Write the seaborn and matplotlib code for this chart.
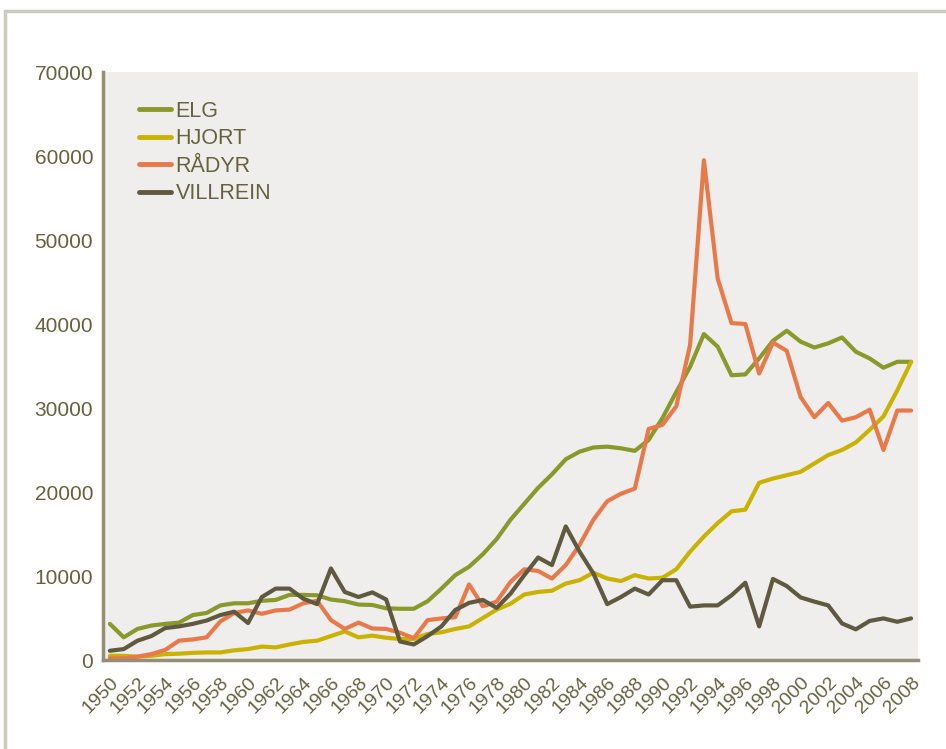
import numpy as np
import pandas as pd
import matplotlib
matplotlib.use("Agg")
import matplotlib.pyplot as plt
import seaborn as sns
from matplotlib.patches import Rectangle
from matplotlib.ticker import FixedLocator, MultipleLocator

# ── Data (felt vilt per år) ───────────────────────────────────────────

years = list(range(1950, 2009))

elg = [4300, 2700, 3700, 4100, 4300, 4450, 5350, 5600, 6500, 6750,
       6750, 7050, 7150, 7750, 7750, 7700, 7200, 7000, 6600, 6550,
       6150, 6100, 6100, 7000, 8500, 10100, 11100, 12600, 14400, 16700,
       18600, 20500, 22100, 23900, 24800, 25300, 25400, 25200, 24900, 26200,
       28800, 31900, 34900, 38800, 37300, 33900, 34000, 35900, 38000, 39200,
       37900, 37200, 37700, 38400, 36700, 35900, 34800, 35500, 35500]

hjort = [500, 500, 400, 500, 700, 750, 850, 900, 900, 1150,
         1300, 1600, 1500, 1850, 2150, 2300, 2850, 3400, 2700, 2900,
         2650, 2500, 2500, 3100, 3300, 3700, 4000, 5000, 6000, 6700,
         7800, 8100, 8250, 9100, 9500, 10400, 9700, 9400, 10100, 9700,
         9800, 10800, 12900, 14700, 16300, 17700, 17900, 21100, 21600, 22000,
         22400, 23400, 24400, 25000, 25900, 27400, 29000, 32100, 35500]

radyr = [200, 200, 400, 700, 1200, 2300, 2450, 2700, 4600, 5600,
         5900, 5500, 5900, 6000, 6750, 7050, 4750, 3700, 4450, 3750,
         3700, 3250, 2600, 4750, 4950, 5100, 9000, 6400, 6950, 9300,
         10800, 10600, 9700, 11300, 13700, 16700, 18900, 19800, 20400, 27500,
         28000, 30200, 37500, 59500, 45400, 40100, 40000, 34100, 37800, 36800,
         31300, 28900, 30600, 28500, 28900, 29800, 25000, 29700, 29700]

villrein = [1100, 1300, 2300, 2850, 3800, 4000, 4300, 4700, 5350, 5750,
            4400, 7500, 8500, 8500, 7300, 6650, 10900, 8100, 7500, 8050,
            7200, 2200, 1850, 2850, 4000, 5950, 6800, 7150, 6200, 7900,
            10100, 12200, 11300, 15900, 12900, 10300, 6650, 7500, 8500, 7800,
            9500, 9500, 6350, 6500, 6500, 7700, 9200, 4000, 9650, 8800,
            7450, 6950, 6500, 4350, 3650, 4650, 4950, 4550, 4950]

species = ["ELG", "HJORT", "RÅDYR", "VILLREIN"]
colors = ["#8a992c", "#cab300", "#e8794a", "#5f5a3f"]

y_ticks = list(range(0, 70001, 10000))
x_labels = years[::2]

AXIS_COL = "#948e77"
TEXT_COL = "#66623f"
BG_COL = "#efeeec"
FRAME_COL = "#cdcbbf"

# ── Plot ──────────────────────────────────────────────────────────────

sns.set_style("white")
plt.rcParams["font.family"] = ["Liberation Sans", "DejaVu Sans"]

df = pd.DataFrame({
    "år": years * len(species),
    "antall": elg + hjort + radyr + villrein,
    "art": np.repeat(species, len(years)),
})

fig = plt.figure(figsize=(9.46, 7.49), dpi=100)
W, H = 946, 749
ax = fig.add_axes([103 / W, 89 / H, 815 / W, 588 / H])
ax.set_facecolor(BG_COL)

sns.lineplot(data=df, x="år", y="antall", hue="art", hue_order=species,
             palette=colors, linewidth=3.0, ax=ax, legend=True)

ax.set_xlim(1949.5, 2008.5)
ax.set_ylim(0, 70000)
ax.set_xlabel(""); ax.set_ylabel("")

for side in ["top", "right"]:
    ax.spines[side].set_visible(False)
for side in ["left", "bottom"]:
    ax.spines[side].set_color(AXIS_COL)
    ax.spines[side].set_linewidth(2.5)

ax.yaxis.set_major_locator(FixedLocator(y_ticks))
ax.set_yticklabels([str(v) for v in y_ticks])
ax.tick_params(axis="y", direction="out", length=5, width=2, color=AXIS_COL,
               labelcolor=TEXT_COL, labelsize=15, pad=2)

ax.xaxis.set_major_locator(FixedLocator(x_labels))
ax.set_xticklabels([str(y) for y in x_labels], rotation=45, ha="right",
                   rotation_mode="anchor")
ax.xaxis.set_minor_locator(MultipleLocator(1, offset=0.5))
ax.tick_params(axis="x", which="major", length=0, labelcolor=TEXT_COL,
               labelsize=14, pad=10)
ax.tick_params(axis="x", which="minor", direction="out", length=5, width=2,
               color=AXIS_COL)

leg = ax.legend(loc="upper left", bbox_to_anchor=(0.044, 0.951),
                frameon=False, borderpad=0, borderaxespad=0,
                handlelength=1.5, handletextpad=0.2, labelspacing=0.3,
                prop={"size": 15.5})
for txt in leg.get_texts():
    txt.set_color(TEXT_COL)
for line in leg.get_lines():
    line.set_linewidth(3.5)
    line.set_solid_capstyle("round")

# outer frame of the figure panel
fig.patches.append(Rectangle((5 / W, -0.05), 1.1, 1 - 11 / H + 0.05,
                             transform=fig.transFigure, fill=False,
                             edgecolor=FRAME_COL, linewidth=2.5))

fig.savefig("out.png", dpi=100)
plt.close(fig)
